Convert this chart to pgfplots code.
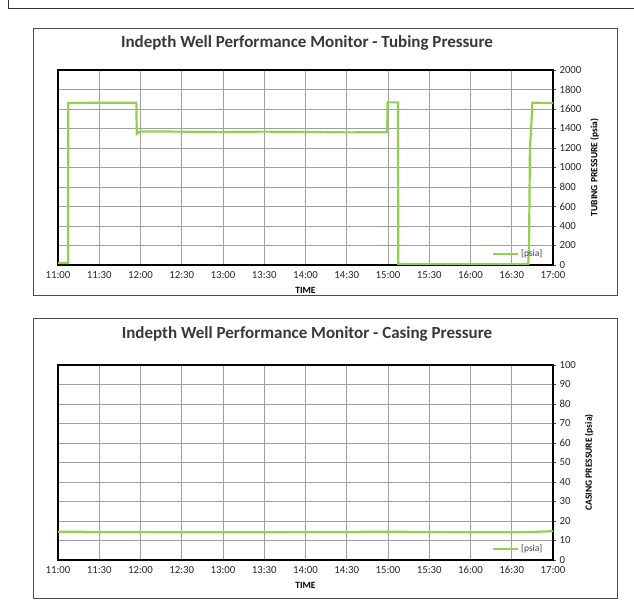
\documentclass[border=0pt]{standalone}
\usepackage{fontspec}
\setmainfont{Carlito}
\usepackage{pgfplots}
\pgfplotsset{compat=1.18}
\definecolor{lgreen}{RGB}{146,208,80}
\definecolor{gridc}{RGB}{160,160,160}
\pgfplotsset{
  wellstyle/.style={
    scale only axis, width=495pt, height=195pt,
    xmin=11, xmax=17,
    xtick={11,11.5,...,17},
    xticklabels={11:00,11:30,12:00,12:30,13:00,13:30,14:00,14:30,15:00,15:30,16:00,16:30,17:00},
    yticklabel pos=right,
    ytick pos=right,
    xtick pos=bottom,
    grid=major,
    grid style={gridc, line width=0.6pt},
    axis line style={black, line width=2.2pt},
    tick align=outside,
    major tick length=3pt,
    xtick style={draw=none},
    ytick style={black!70, line width=0.5pt},
    /pgf/number format/assume math mode=true,
    /pgf/number format/1000 sep={},
    ticklabel style={font=\fontsize{10.8}{12}\selectfont, text=black!85},
    xlabel={\bfseries TIME},
    xlabel style={font=\fontsize{9.5}{10}\selectfont, yshift=-2pt},
    ylabel style={font=\fontsize{9.5}{10}\selectfont\bfseries, yshift=-2pt},
    legend style={draw=none, fill=none, at={(0.985,0.02)}, anchor=south east, font=\fontsize{9.5}{10}\selectfont, inner sep=1pt, text=black!75},
    legend cell align=left,
    legend image code/.code={\draw[#1, line width=2.2pt] (0pt,0pt) -- (25pt,0pt);},
  }
}
\begin{document}
\begin{tikzpicture}[x=1pt,y=1pt]
\path[use as bounding box] (0,0) rectangle (634,609);
\coordinate (A1) at (58,344);
\coordinate (A2) at (58,49);
% outer frame
\draw[black!80, line width=0.8pt] (8,609) -- (8,601) -- (634,601);
% chart boxes
\draw[black!70, line width=0.6pt] (33,314) rectangle (617,581);
\draw[black!70, line width=0.6pt] (33,11) rectangle (617,291);
\node[font=\fontsize{17}{19}\selectfont\bfseries, text=black!78] at (307,566) {Indepth Well Performance Monitor - Tubing Pressure};
\node[font=\fontsize{17}{19}\selectfont\bfseries, text=black!78] at (307,275) {Indepth Well Performance Monitor - Casing Pressure};
\begin{axis}[wellstyle, at={(A1)}, anchor=south west,
  ymin=0, ymax=2000, ytick={0,200,...,2000},
  ylabel={TUBING PRESSURE (psia)}]
\addplot[lgreen, line width=2.2pt] coordinates {
(11.0,20) (11.12,20) (11.125,1660) (11.5,1665) (11.95,1665) (11.955,1345)
(11.98,1360) (12.0,1370) (13.0,1365) (13.5,1368) (14.0,1365) (14.5,1360)
(14.99,1362) (14.995,1668) (15.12,1668) (15.125,10) (15.5,8) (16.0,8)
(16.5,8) (16.70,10) (16.71,200) (16.72,1200) (16.735,1400) (16.75,1665) (17.0,1660)
};
\addlegendentry{[psia]}
\end{axis}
\begin{axis}[wellstyle, at={(A2)}, anchor=south west,
  ymin=0, ymax=100, ytick={0,10,...,100},
  ylabel={CASING PRESSURE (psia)}]
\addplot[lgreen, line width=2.2pt] coordinates {
(11.0,14.5) (12.0,14.3) (13.0,14.2) (14.0,14.3) (15.0,14.5) (16.0,14.2) (16.7,14.3) (17.0,14.8)
};
\addlegendentry{[psia]}
\end{axis}
\end{tikzpicture}
\end{document}
